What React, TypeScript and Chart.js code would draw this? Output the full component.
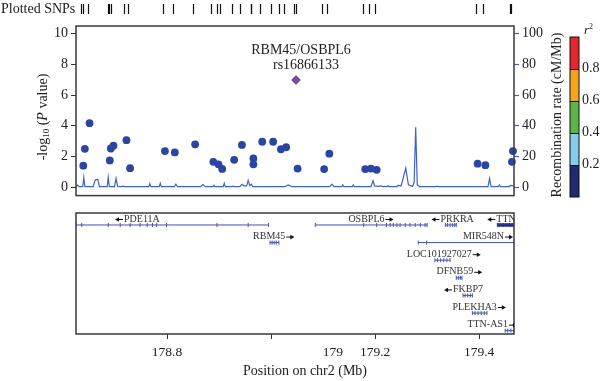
import React, { useEffect, useRef } from 'react';
import { Chart, registerables } from 'chart.js';
Chart.register(...registerables);

// ---------------- data ----------------
const X_MIN = 178.625;
const X_MAX = 179.467;

const snpPos = [178.639, 178.642, 178.651, 178.690, 178.692, 178.697, 178.722, 178.729, 178.796, 178.815,
  178.854, 178.889, 178.899, 178.906, 178.929, 178.944, 178.966, 178.966, 178.983, 179.004,
  179.019, 179.029, 179.051, 179.102, 179.112, 179.181, 179.192, 179.203, 179.397, 179.412,
  179.463, 179.465];
const snpLogP = [1.40, 2.50, 4.17, 1.74, 2.52, 2.70, 3.06, 1.24, 2.35, 2.26,
  2.79, 1.65, 1.49, 1.19, 1.78, 2.75, 1.87, 1.49, 2.96, 2.96,
  2.47, 2.60, 1.21, 1.18, 2.18, 1.18, 1.21, 1.13, 1.53, 1.43,
  1.65, 2.35];

const leadPos = [179.048];
const leadLogP = [6.98];
const leadLabel = ['RBM45/OSBPL6', 'rs16866133'];

const recombPos = [178.625, 178.628, 178.631, 178.638, 178.640, 178.642, 178.658, 178.662, 178.667, 178.670,
  178.685, 178.687, 178.689, 178.699, 178.702, 178.705, 178.713, 178.715, 178.717, 178.765,
  178.767, 178.769, 178.785, 178.787, 178.789, 178.814, 178.817, 178.820, 178.864, 178.869,
  178.874, 178.888, 178.890, 178.892, 178.908, 178.910, 178.912, 178.925, 178.927, 178.929,
  178.940, 178.944, 178.948, 178.953, 178.956, 178.959, 178.962, 178.965, 179.026, 179.033,
  179.040, 179.113, 179.117, 179.121, 179.136, 179.138, 179.140, 179.156, 179.158, 179.160,
  179.192, 179.196, 179.199, 179.208, 179.210, 179.212, 179.223, 179.225, 179.227, 179.242,
  179.244, 179.250, 179.259, 179.264, 179.272, 179.275, 179.278, 179.281, 179.286, 179.317,
  179.319, 179.321, 179.417, 179.420, 179.423, 179.437, 179.439, 179.441, 179.458, 179.460,
  179.467];
const recombRate = [0.3, 1.3, 0.3, 0.3, 6.5, 0.3, 0.3, 4.8, 5.0, 0.3,
  0.3, 6.5, 0.3, 0.3, 5.7, 0.5, 0.3, 0.8, 0.3, 0.3,
  2.3, 0.3, 0.3, 2.5, 0.3, 0.3, 2.0, 0.3, 0.3, 1.7,
  0.3, 0.3, 1.2, 0.3, 0.3, 2.5, 0.3, 0.3, 0.8, 0.3,
  0.3, 1.8, 0.8, 0.8, 4.4, 1.0, 2.0, 0.3, 0.3, 1.4,
  0.3, 0.3, 2.0, 0.3, 0.3, 1.5, 0.3, 0.3, 1.5, 0.3,
  0.3, 4.2, 0.8, 0.5, 1.0, 0.5, 0.3, 1.0, 0.3, 0.3,
  1.2, 0.8, 12.4, 1.5, 0.5, 3.0, 39.0, 1.5, 0.3, 0.3,
  0.6, 0.3, 0.3, 5.7, 0.3, 0.3, 1.5, 0.3, 0.3, 1.2,
  0.8];

const yTicks = [0, 2, 4, 6, 8, 10];
const recombTicks = [0, 20, 40, 60, 80, 100];
const r2Breaks = [0, 0.2, 0.4, 0.6, 0.8, 1.0];
const r2Colors = ['#1f2b70', '#88cbec', '#5db548', '#f6a31d', '#e5262b'];
const r2Labels = ['0.2', '0.4', '0.6', '0.8'];

const xTickValues = [178.8, 179.0, 179.119, 179.2, 179.4];
const xTickLabels = ['178.8', '', '179', '179.2', '179.4'];
const xTickMarks = [true, true, false, true, true];

const geneNames = ['PDE11A', 'OSBPL6', 'PRKRA', 'TTN', 'RBM45', 'MIR548N', 'LOC101927027', 'DFNB59', 'FKBP7', 'PLEKHA3', 'TTN-AS1'];
const geneStart = [178.625, 179.085, 179.335, 179.435, 178.998, 179.283, 179.315, 179.356, 179.369, 179.387, 179.450];
const geneEnd = [178.995, 179.300, 179.356, 179.467, 179.015, 179.467, 179.344, 179.367, 179.387, 179.415, 179.467];
const geneRow = [0, 0, 0, 0, 1, 1, 2, 3, 4, 5, 6];
const geneStrand = ['-', '+', '-', '-', '+', '+', '+', '+', '-', '+', '+'];
const geneLabelAt = [178.743, 179.192, 179.349, 179.443, 179.005, 179.417, 179.332, 179.362, 179.370, 179.400, 179.425];
const geneExons = [
  [178.636, 178.687, 178.710, 178.729, 178.748, 178.762, 178.772, 178.780, 178.799, 178.896, 178.956],
  [179.178, 179.203, 179.222, 179.229, 179.235, 179.242, 179.248, 179.258, 179.267, 179.277, 179.287, 179.296],
  [179.339, 179.344, 179.349, 179.353],
  [179.440, 179.446, 179.452, 179.458, 179.463],
  [179.002, 179.006, 179.010],
  [179.299],
  [179.320, 179.326, 179.332, 179.338],
  [179.360, 179.364],
  [179.373, 179.378, 179.383],
  [179.392, 179.398, 179.404, 179.410],
  [179.455, 179.461],
];

// ---------------- style ----------------
const SERIF = '"Liberation Serif", "DejaVu Serif", serif';
const TEXT = '#222';
const FRAME = '#3a3a3a';
const POINT = '#2b45a3';
const RECOMB = '#3f62c8';
const GENE = '#4351b0';

function drawTitleParts(ctx: CanvasRenderingContext2D, parts: { t: string; font: string; dy?: number }[], cx: number, cy: number) {
  let total = 0;
  parts.forEach(p => { ctx.font = p.font; total += ctx.measureText(p.t).width; });
  let x = cx - total / 2;
  ctx.textAlign = 'left';
  ctx.textBaseline = 'middle';
  parts.forEach(p => {
    ctx.font = p.font;
    ctx.fillText(p.t, x, cy + (p.dy || 0));
    x += ctx.measureText(p.t).width;
  });
}

const topDecor = {
  id: 'topDecor',
  afterDraw(chart: any) {
    const { ctx, chartArea: ca } = chart;
    const xs = chart.scales.x;
    const ys = chart.scales.y;
    ctx.save();
    // frame
    ctx.strokeStyle = FRAME;
    ctx.lineWidth = 1.5;
    ctx.strokeRect(ca.left, ca.top, ca.right - ca.left, ca.bottom - ca.top);
    // plotted SNPs row
    ctx.strokeStyle = '#111';
    ctx.lineWidth = 1.2;
    [...snpPos, ...leadPos].forEach(p => {
      const x = Math.round(xs.getPixelForValue(p)) - 1.5;
      ctx.beginPath();
      ctx.moveTo(x, 4);
      ctx.lineTo(x, 14);
      ctx.stroke();
    });
    ctx.fillStyle = TEXT;
    ctx.font = `14px ${SERIF}`;
    ctx.textAlign = 'left';
    ctx.textBaseline = 'middle';
    ctx.fillText('Plotted SNPs', 1, 9);
    // lead label
    const lx = xs.getPixelForValue(leadPos[0]);
    const ly = ys.getPixelForValue(leadLogP[0]);
    ctx.textAlign = 'center';
    ctx.fillText(leadLabel[0], lx + 5, ly - 30);
    ctx.fillText(leadLabel[1], lx + 10, ly - 15);
    // left title
    ctx.save();
    ctx.translate(43, 117);
    ctx.rotate(-Math.PI / 2);
    drawTitleParts(ctx, [
      { t: '-log', font: `14px ${SERIF}` },
      { t: '10', font: `9px ${SERIF}`, dy: 4 },
      { t: ' (', font: `14px ${SERIF}` },
      { t: 'P', font: `italic 14px ${SERIF}` },
      { t: ' value)', font: `14px ${SERIF}` },
    ], 0, 0);
    ctx.restore();
    // right title
    ctx.save();
    ctx.translate(557, 115);
    ctx.rotate(-Math.PI / 2);
    ctx.font = `14px ${SERIF}`;
    ctx.textAlign = 'center';
    ctx.textBaseline = 'middle';
    ctx.fillText('Recombination rate (cM/Mb)', 0, 0);
    ctx.restore();
    // colorbar
    const cbX = 570, cbW = 9, cbTop = 37, cbBot = 197;
    const yOf = (v: number) => cbBot - v * (cbBot - cbTop);
    for (let i = 0; i < r2Colors.length; i++) {
      const y0 = yOf(r2Breaks[i + 1]);
      const y1 = yOf(r2Breaks[i]);
      ctx.fillStyle = r2Colors[i];
      ctx.fillRect(cbX, y0, cbW, y1 - y0);
    }
    ctx.strokeStyle = '#111';
    ctx.lineWidth = 1;
    ctx.strokeRect(cbX, cbTop, cbW, cbBot - cbTop);
    for (let i = 1; i < r2Breaks.length - 1; i++) {
      const y = Math.round(yOf(r2Breaks[i])) + 0.5;
      ctx.beginPath();
      ctx.moveTo(cbX, y);
      ctx.lineTo(cbX + cbW, y);
      ctx.stroke();
    }
    ctx.fillStyle = TEXT;
    ctx.font = `14px ${SERIF}`;
    ctx.textAlign = 'left';
    ctx.textBaseline = 'middle';
    r2Labels.forEach((l, i) => ctx.fillText(l, 582, yOf(r2Breaks[i + 1]) - 1));
    ctx.font = `italic 13px ${SERIF}`;
    ctx.fillText('r', 584, 31);
    ctx.font = `8px ${SERIF}`;
    ctx.fillText('2', 589, 27);
    ctx.restore();
  },
};

const botDecor = {
  id: 'botDecor',
  afterDraw(chart: any) {
    const { ctx, chartArea: ca } = chart;
    const xs = chart.scales.x;
    const ys = chart.scales.y;
    ctx.save();
    ctx.strokeStyle = FRAME;
    ctx.lineWidth = 1.5;
    ctx.strokeRect(ca.left, ca.top, ca.right - ca.left, ca.bottom - ca.top);
    // gene labels
    ctx.save();
    ctx.beginPath();
    ctx.rect(ca.left, ca.top, ca.right - ca.left, ca.bottom - ca.top);
    ctx.clip();
    ctx.font = `10px ${SERIF}`;
    ctx.textBaseline = 'middle';
    ctx.textAlign = 'left';
    const arrowLen = 8;
    geneNames.forEach((name, i) => {
      const tw = ctx.measureText(name).width;
      const total = tw + arrowLen + 1;
      const cx = xs.getPixelForValue(geneLabelAt[i]);
      const y = ys.getPixelForValue(geneRow[i]) - 6;
      const x = cx - total / 2;
      const drawArrow = (x0: number, dir: number) => {
        const xa = dir > 0 ? x0 : x0 + arrowLen;
        const xb = dir > 0 ? x0 + arrowLen : x0;
        ctx.strokeStyle = '#111';
        ctx.fillStyle = '#111';
        ctx.lineWidth = 1;
        ctx.beginPath();
        ctx.moveTo(xa, y + 0.5);
        ctx.lineTo(xb - dir * 2, y + 0.5);
        ctx.stroke();
        ctx.beginPath();
        ctx.moveTo(xb, y + 0.5);
        ctx.lineTo(xb - dir * 4, y - 1.8);
        ctx.lineTo(xb - dir * 4, y + 2.8);
        ctx.closePath();
        ctx.fill();
      };
      ctx.fillStyle = '#333';
      if (geneStrand[i] === '-') {
        drawArrow(x, -1);
        ctx.fillStyle = '#333';
        ctx.fillText(name, x + arrowLen + 1, y);
      } else {
        ctx.fillText(name, x, y);
        drawArrow(x + tw + 1, 1);
      }
    });
    ctx.restore();
    // x title
    ctx.fillStyle = TEXT;
    ctx.font = `14px ${SERIF}`;
    ctx.textAlign = 'center';
    ctx.textBaseline = 'middle';
    ctx.fillText('Position on chr2 (Mb)', 305, 164.5);
    ctx.restore();
  },
};

export default function App() {
  const topRef = useRef<HTMLCanvasElement>(null);
  const botRef = useRef<HTMLCanvasElement>(null);

  useEffect(() => {
    const yFont = { family: SERIF, size: 14 };
    const xFont = { family: SERIF, size: 13.5 };
    const top = new Chart(topRef.current!, {
      type: 'scatter',
      data: {
        datasets: [
          {
            type: 'line',
            label: 'Recombination rate',
            data: recombPos.map((x, i) => ({ x, y: recombRate[i] })),
            yAxisID: 'y2',
            borderColor: RECOMB,
            borderWidth: 1.2,
            pointRadius: 0,
            tension: 0,
            order: 3,
          } as any,
          {
            label: 'SNPs',
            data: snpPos.map((x, i) => ({ x, y: snpLogP[i] })),
            yAxisID: 'y',
            backgroundColor: POINT,
            borderColor: POINT,
            pointRadius: 3.9,
            pointBorderWidth: 0,
            clip: false,
            order: 2,
          } as any,
          {
            label: 'Lead SNP',
            data: leadPos.map((x, i) => ({ x, y: leadLogP[i] })),
            yAxisID: 'y',
            pointStyle: 'rectRot',
            backgroundColor: '#7b4ca9',
            borderColor: '#3d2660',
            pointRadius: 4.3,
            pointBorderWidth: 0.8,
            clip: false,
            order: 1,
          } as any,
        ],
      },
      options: {
        animation: false,
        responsive: false,
        layout: { padding: { top: 26, bottom: 5, left: 0, right: 0 } },
        plugins: { legend: { display: false }, tooltip: { enabled: false } },
        scales: {
          x: { type: 'linear', min: X_MIN, max: X_MAX, display: false },
          y: {
            position: 'left',
            min: -0.55,
            max: 10.5,
            afterBuildTicks: (s: any) => { s.ticks = yTicks.map(v => ({ value: v })); },
            afterFit: (s: any) => { s.width = 76; },
            ticks: { font: yFont, color: TEXT, padding: 3, autoSkip: false },
            grid: { drawOnChartArea: false, tickLength: 5, tickColor: '#333', tickWidth: 1 },
            border: { display: false },
          },
          y2: {
            position: 'right',
            min: -5.5,
            max: 105,
            afterBuildTicks: (s: any) => { s.ticks = recombTicks.map(v => ({ value: v })); },
            afterFit: (s: any) => { s.width = 86; },
            ticks: { font: yFont, color: TEXT, padding: 3, autoSkip: false },
            grid: { drawOnChartArea: false, tickLength: 5, tickColor: RECOMB, tickWidth: 1.2 },
            border: { display: false },
          },
        },
      } as any,
      plugins: [topDecor],
    });

    const bot = new Chart(botRef.current!, {
      type: 'line',
      data: {
        datasets: geneNames.map((name, i) => {
          const col = name === 'TTN' ? '#26338a' : GENE;
          const xsVals = [geneStart[i], ...geneExons[i], geneEnd[i]].sort((a, b) => a - b);
          return {
            label: name,
            data: xsVals.map(x => ({ x, y: geneRow[i] })),
            borderColor: col,
            backgroundColor: col,
            borderWidth: name === 'TTN' ? 3.5 : 1,
            pointStyle: 'line',
            pointRotation: 90,
            pointRadius: 2,
            pointBorderWidth: 1,
            pointBorderColor: col,
            tension: 0,
          } as any;
        }),
      },
      options: {
        animation: false,
        responsive: false,
        layout: { padding: { top: 6, bottom: 0, left: 76, right: 86 } },
        plugins: { legend: { display: false }, tooltip: { enabled: false } },
        scales: {
          x: {
            type: 'linear',
            min: X_MIN,
            max: X_MAX,
            afterBuildTicks: (s: any) => { s.ticks = xTickValues.map(v => ({ value: v })); },
            afterFit: (s: any) => { s.height = 47; },
            ticks: {
              autoSkip: false,
              maxRotation: 0,
              font: xFont,
              color: TEXT,
              padding: 5,
              callback: (_v: any, i: number) => xTickLabels[i],
            },
            grid: {
              drawOnChartArea: false,
              tickLength: 5,
              tickWidth: 1,
              tickColor: (c: any) => (xTickMarks[c.index] ? '#333' : 'rgba(0,0,0,0)'),
            },
            border: { display: false },
          },
          y: { display: false, min: -0.68, max: 6.19, reverse: true },
        },
      } as any,
      plugins: [botDecor],
    });

    return () => { top.destroy(); bot.destroy(); };
  }, []);

  return (
    <div style={{ position: 'fixed', left: 0, top: 0, width: 600, height: 381, background: '#fff' }}>
      <canvas ref={topRef} width={600} height={207} style={{ position: 'absolute', left: 0, top: 0, width: 600, height: 207 }} />
      <canvas ref={botRef} width={600} height={174} style={{ position: 'absolute', left: 0, top: 207, width: 600, height: 174 }} />
    </div>
  );
}
